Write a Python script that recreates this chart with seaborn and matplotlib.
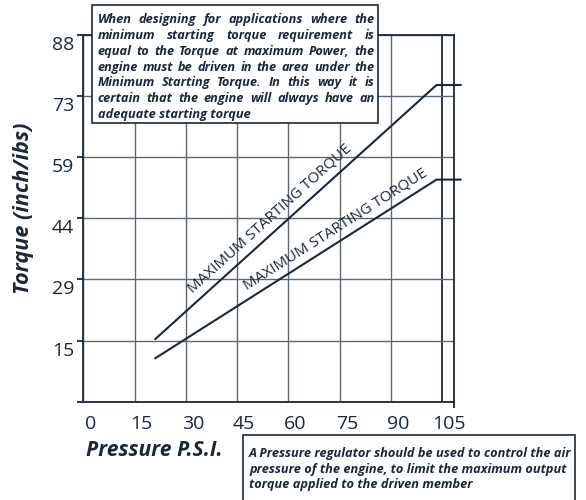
import matplotlib
matplotlib.use("Agg")
import matplotlib.pyplot as plt
import matplotlib.transforms as mtransforms
from matplotlib.patches import Rectangle
import numpy as np
import pandas as pd
import seaborn as sns

# data
pressure = [21.0, 103.3, 110.4]
torque_high = [15.0, 76.0, 76.0]
torque_low = [10.4, 53.3, 53.3]
curve_names = ["upper", "lower"]
curve_label = "MAXIMUM STARTING TORQUE"
x_ticks = [0, 15, 30, 45, 60, 75, 90, 105]
y_ticks = [0, 88 / 6, 2 * 88 / 6, 44, 4 * 88 / 6, 5 * 88 / 6, 88]
y_tick_labels = ["", "15", "29", "44", "59", "73", "88"]
x_title = "Pressure P.S.I."
y_title = "Torque (inch/ibs)"
note_top = [
    "When designing for applications where the",
    "minimum starting torque requirement is",
    "equal to the Torque at maximum Power, the",
    "engine must be driven in the area under the",
    "Minimum Starting Torque. In this way it is",
    "certain that the engine will always have an",
    "adequate starting torque",
]
note_bottom = [
    "A Pressure regulator should be used to control the air",
    "pressure of the engine, to limit the maximum output",
    "torque applied to the driven member",
]

DARK = "#1b2838"
GRID = "#5d6874"
W, H = 586, 500

sns.set_style("white")
plt.rcParams["font.family"] = ["Open Sans", "DejaVu Sans"]

df = pd.DataFrame({
    "pressure": pressure * 2,
    "torque": torque_high + torque_low,
    "curve": [curve_names[0]] * 3 + [curve_names[1]] * 3,
})

fig = plt.figure(figsize=(W / 100, H / 100), dpi=100)
ax = fig.add_axes([83.3 / W, 98.3 / H, 370.7 / W, 366.7 / H])

sns.lineplot(data=df, x="pressure", y="torque", units="curve", estimator=None,
             color=DARK, lw=1.5, ax=ax, legend=False, zorder=5)
for ln in ax.lines:
    ln.set_clip_on(False)

ax.set_xlim(0, 108.4)
ax.set_ylim(0, 88)
ax.set_xticks(x_ticks)
ax.set_xticklabels([str(v) for v in x_ticks])
ax.set_xticks([0, 108.4], minor=True)
ax.set_yticks(y_ticks)
ax.set_yticklabels(y_tick_labels)
ax.set_xlabel("")
ax.set_ylabel("")

ax.grid(True, color=GRID, lw=1.0)
ax.get_xgridlines()[-1].set_color(DARK)
ax.get_xgridlines()[-1].set_linewidth(1.3)
for side in ["left", "bottom", "right", "top"]:
    ax.spines[side].set_visible(True)
    ax.spines[side].set_color(DARK)
    ax.spines[side].set_linewidth(1.3)

ax.tick_params(axis="x", which="major", length=0, pad=9.5, labelsize=14, labelcolor=DARK)
ax.tick_params(axis="x", which="minor", length=4, width=1.3, color=DARK, direction="out", bottom=True)
ax.tick_params(axis="y", length=4.3, width=1.3, color=DARK, direction="out", pad=2.2,
               labelsize=14, labelcolor=DARK, left=True)

shift_x = mtransforms.ScaledTranslation(0.07, 0, fig.dpi_scale_trans)
for lab in ax.get_xticklabels():
    lab.set_transform(lab.get_transform() + shift_x)
shift_y = mtransforms.ScaledTranslation(0, -0.08, fig.dpi_scale_trans)
for lab in ax.get_yticklabels():
    lab.set_transform(lab.get_transform() + shift_y)

# rotated labels along the two curves
fig.canvas.draw()
for ys, xm, off in [(torque_high, 57.0, 3.5), (torque_low, 75.6, 3.5)]:
    p0 = ax.transData.transform((pressure[0], ys[0]))
    p1 = ax.transData.transform((pressure[1], ys[1]))
    ang = np.degrees(np.arctan2(p1[1] - p0[1], p1[0] - p0[0]))
    ym = np.interp(xm, pressure[:2], ys[:2])
    nx, ny = -np.sin(np.radians(ang)), np.cos(np.radians(ang))
    ax.annotate(curve_label, (xm, ym), xytext=(nx * off, ny * off), textcoords="offset points",
                rotation=ang, rotation_mode="anchor", ha="center", va="bottom",
                fontsize=11, color=DARK, zorder=6)

# axis titles
fig.text(154 / W, 1 - 451 / H, x_title, ha="center", va="center", fontsize=15.2,
         fontweight="bold", style="italic", color=DARK)
fig.text(24 / W, 1 - 208 / H, y_title, ha="center", va="center", rotation=90,
         fontsize=15.6, fontweight="bold", style="italic", color=DARK)

# note boxes
fig.add_artist(Rectangle((92.3 / W, 1 - 123 / H), (377.7 - 92.3) / W, 118 / H,
                         transform=fig.transFigure, facecolor="white", edgecolor=DARK,
                         lw=1.2, zorder=4))
fig.add_artist(Rectangle((242.7 / W, -0.05), (575 - 242.7) / W, 0.05 + 1 - 435 / H,
                         transform=fig.transFigure, facecolor="white", edgecolor=DARK,
                         lw=1.2, zorder=4))

note_kw = dict(fontsize=9.15, fontweight="bold", style="italic", color=DARK,
               va="baseline", zorder=7)
renderer = fig.canvas.get_renderer()


def justify(lines, x0, x1, y0, step):
    for i, line in enumerate(lines):
        yb = 1 - (y0 + i * step) / H
        words = line.split()
        if i == len(lines) - 1:
            fig.text(x0 / W, yb, line, ha="left", **note_kw)
            continue
        texts = [fig.text(0, yb, w, ha="left", **note_kw) for w in words]
        widths = [t.get_window_extent(renderer).width for t in texts]
        gap = (x1 - x0 - sum(widths)) / (len(words) - 1)
        x = x0
        for t, wd in zip(texts, widths):
            t.set_x(x / W)
            x += wd + gap


justify(note_top, 97.5, 374.5, 23.2, 15.8)
for i, line in enumerate(note_bottom):
    fig.text(249 / W, 1 - (457 + i * 15.6) / H, line, ha="left", **note_kw)

fig.savefig("out.png", dpi=100)
